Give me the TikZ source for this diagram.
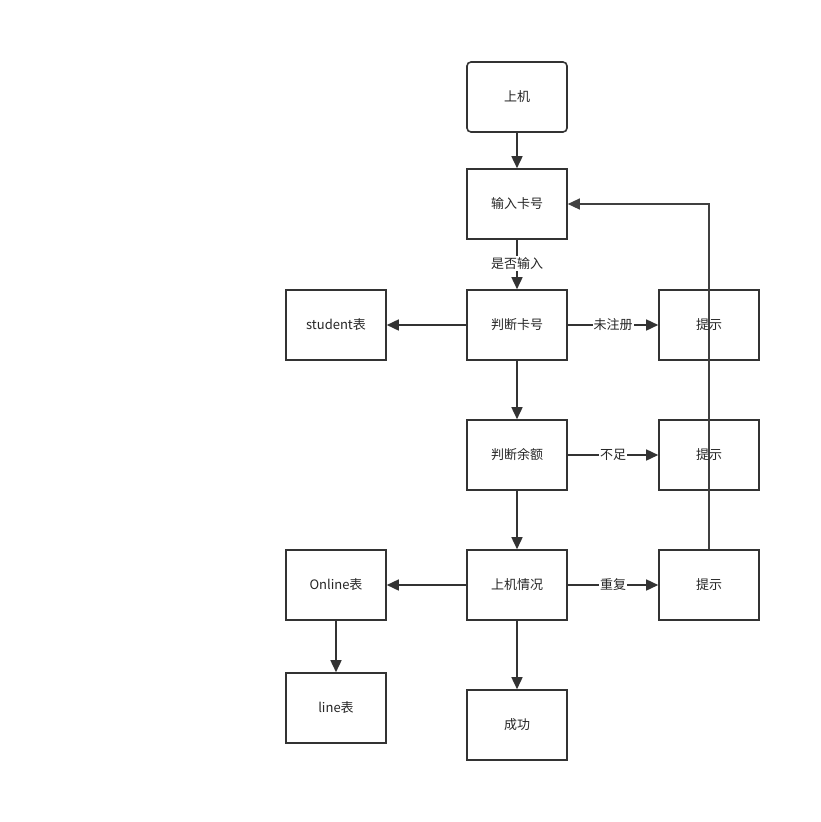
\documentclass[tikz,border=0pt]{standalone}
\usepackage{fontspec}
\setmainfont{Noto Sans CJK SC}
\usetikzlibrary{arrows.meta}
\begin{document}
\begin{tikzpicture}[x=1pt,y=-1pt,
  box/.style={draw=black!80,line width=1.6pt,minimum width=100pt,minimum height=70pt,inner sep=0pt,font=\fontsize{13}{15}\selectfont,text=black!85},
  conn/.style={draw=black!80,line width=1.6pt,-{Triangle[length=12pt,width=11pt]}},
  lbl/.style={fill=white,inner sep=1pt,font=\fontsize{13}{15}\selectfont,text=black!85},
  fb/.style={draw=black!75,line width=1.3pt,-{Triangle[length=12pt,width=11pt]}}]
\useasboundingbox (0,0) rectangle (821,822);
\fill[white] (0,0) rectangle (821,822);
\coordinate (c1) at (709,204);
\node[box,rounded corners=4pt] (start) at (517,97) {上机};
\node[box] (input) at (517,204) {输入卡号};
\node[box] (card) at (517,325) {判断卡号};
\node[box] (student) at (336,325) {student表};
\node[box,fill=none] (tip1) at (709,325) {};
\node[box] (bal) at (517,455) {判断余额};
\node[box,fill=none] (tip2) at (709,455) {};
\node[box] (status) at (517,585) {上机情况};
\node[box] (online) at (336,585) {Online表};
\node[box] (tip3) at (709,585) {提示};
\node[box] (line) at (336,708) {line表};
\node[box] (ok) at (517,725) {成功};
\draw[fb] (tip3.north) -- (c1) -- (input.east);
\node[lbl,fill=none] (t1) at (tip1.center) {提示};
\node[lbl,fill=none] (t2) at (tip2.center) {提示};
\draw[conn] (start) -- (input);
\draw[conn] (input) -- node[lbl,pos=0.5,yshift=1pt] (l0) {是否输入} (card);
\draw[conn] (card) -- (student);
\draw[conn] (card) -- node[lbl] (l1) {未注册} (tip1);
\draw[conn] (card) -- (bal);
\draw[conn] (bal) -- node[lbl] (l2) {不足} (tip2);
\draw[conn] (bal) -- (status);
\draw[conn] (status) -- node[lbl] (l3) {重复} (tip3);
\draw[conn] (status) -- (online);
\draw[conn] (online) -- (line);
\draw[conn] (status) -- (ok);
\end{tikzpicture}
\end{document}
